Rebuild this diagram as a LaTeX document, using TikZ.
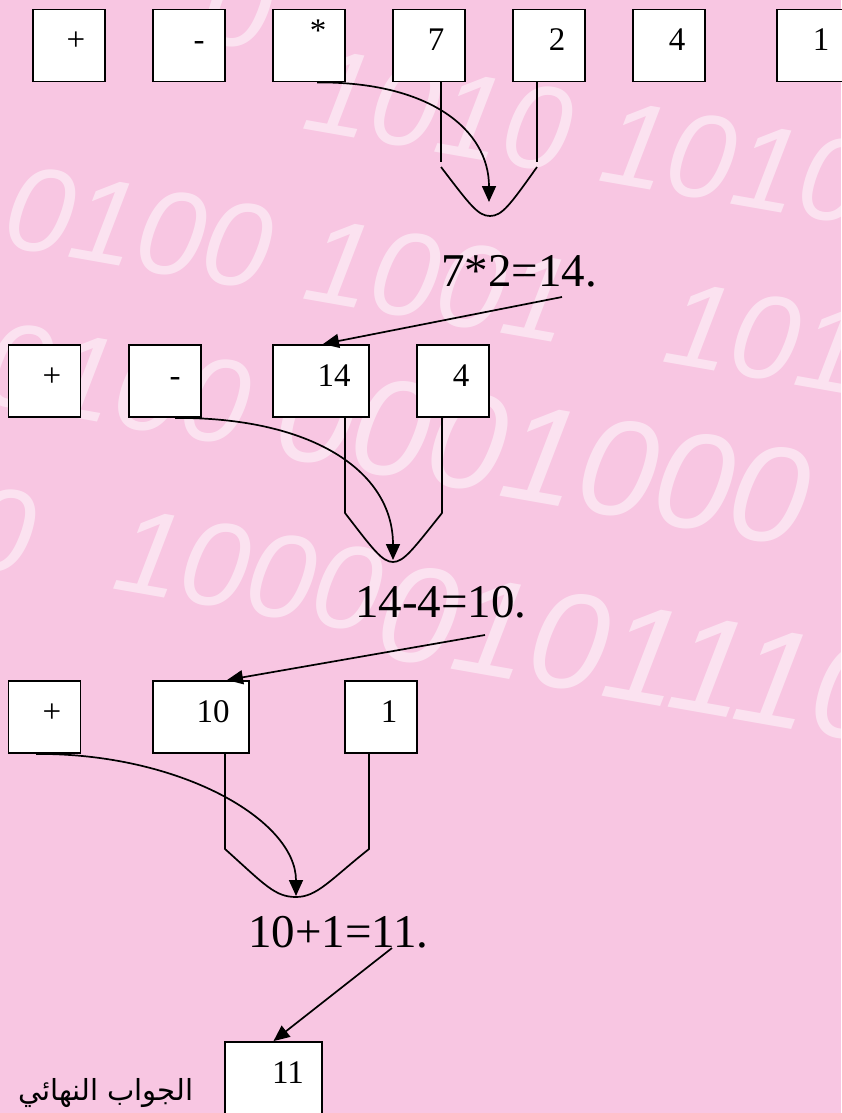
\documentclass[tikz,border=0pt]{standalone}
\usepackage{fontspec}
\setmainfont{Liberation Serif}
\newfontfamily\bgfont{Liberation Sans}
\newfontfamily\arabicfont[Script=Arabic]{DejaVu Sans}
\TeXXeTstate=1
\usetikzlibrary{arrows.meta}
\definecolor{bgpink}{RGB}{248,198,226}
\newcommand\bt[2]{\hspace*{#1pt}#2}
\begin{document}
\begin{tikzpicture}[x=1pt,y=-1pt,
  box/.style={draw=black, line width=1.9pt, fill=white, minimum width=72pt, minimum height=72pt,
    inner sep=0pt, text height=10pt, text depth=0pt, font=\fontsize{33}{33}\selectfont},
  wide/.style={minimum width=96pt},
  conn/.style={line width=1.7pt},
  arr/.style={line width=1.7pt, -{Triangle[length=16pt,width=14pt]}},
  eq/.style={font=\fontsize{47}{47}\selectfont, inner sep=0pt, anchor=base west},
  bgd/.style={text=white, text opacity=0.5, font=\bgfont\itshape\fontsize{120}{120}\selectfont,
    anchor=base west, rotate=-10, inner sep=0pt},
  bgdl/.style={bgd, font=\bgfont\itshape\fontsize{138}{138}\selectfont}
]
\useasboundingbox (0,0) rectangle (841,1113);
\fill[bgpink] (0,0) rectangle (841,1113);

% faded binary digits of the background
\node[bgd] (g0) at (198,40) {0};
\node[bgd] (g1a) at (300,128) {1010};
\node[bgd] (g1b) at (596,180) {1010};
\node[bgd] (g2a) at (0,245) {0100};
\node[bgd] (g2b) at (300,298) {1001};
\node[bgd] (g2c) at (660,361) {1010};
\node[bgd] (g3a) at (-22,401) {0100};
\node[bgdl] (g3b) at (270,455) {0001000};
\node[bgd] (g4a) at (-40,565) {0};
\node[bgd] (g4b) at (110,588) {1000};
\node[bgdl] (g4c) at (372,655) {0101110};

% row 1
\node[box] (b1) at (69,45.5) {\bt{14}{+}};
\node[box] (b2) at (189,45.5) {\bt{20}{-}};
\node[box] (b3) at (309,45.5) {\bt{18}{\raisebox{9pt}{*}}};
\node[box] (b4) at (429,45.5) {\bt{14}{7}};
\node[box] (b5) at (549,45.5) {\bt{16}{2}};
\node[box] (b6) at (669,45.5) {\bt{16}{4}};
\node[box] (b7) at (813,45.5) {\bt{16}{1}};

% row 2
\node[box] (c1) at (44.5,381) {\bt{15}{+}};
\node[box] (c2) at (165,381) {\bt{20}{-}};
\node[box,wide] (c3) at (321,381) {\bt{26}{14}};
\node[box] (c4) at (453,381) {\bt{16}{4}};

% row 3
\node[box] (d1) at (44.5,717) {\bt{15}{+}};
\node[box,wide] (d2) at (201,717) {\bt{24}{10}};
\node[box] (d3) at (381,717) {\bt{16}{1}};

% result
\node[box,wide,minimum width=97pt] (e1) at (273.5,1078) {\bt{29}{11}};

% equations
\node[eq] (l1) at (441,286) {7*2=14.};
\node[eq] (l2) at (355,617) {14-4=10.};
\node[eq] (l3) at (248,947) {10+1=11.};

% arabic label
\node[inner sep=0pt, anchor=base west, font=\fontsize{29}{29}\selectfont] (ar) at (18,1100)
  {\arabicfont\beginR الجواب النهائي\endR};

% step 1
\draw[conn] ([xshift=12pt]b4.south) -- ++(0,80);
\draw[conn] ([xshift=-12pt]b5.south) -- ++(0,80);
\draw[conn] (441,167) .. controls (470,205) and (478,216) .. (490,216)
  .. controls (502,216) and (510,205) .. (537,167);
\draw[arr] ([xshift=8pt]b3.south) .. controls (430,81.5) and (489,130) .. (489,202);
\draw[arr] ([shift={(121,11)}]l1.base west) -- ([xshift=2pt]c3.north);

% step 2
\draw[conn] ([xshift=24pt]c3.south) -- (345,513) .. controls (372,548) and (382,562) .. (393,562)
  .. controls (404,562) and (414,548) .. (442,513) -- ([xshift=-11pt]c4.south);
\draw[arr] ([xshift=10pt]c2.south) .. controls (310,417) and (393,470) .. (393,560);
\draw[arr] ([shift={(130,18)}]l2.base west) -- ([xshift=26pt]d2.north);

% step 3
\draw[conn] ([xshift=24pt]d2.south) -- (225,849) .. controls (265,885) and (275,897) .. (296,897)
  .. controls (317,897) and (330,880) .. (369,849) -- ([xshift=-12pt]d3.south);
\draw[arr] ([xshift=-8.5pt]d1.south) .. controls (180,753) and (296,820) .. (296,896);
\draw[arr] ([shift={(144,1)}]l3.base west) -- (e1.north);
\end{tikzpicture}
\end{document}
